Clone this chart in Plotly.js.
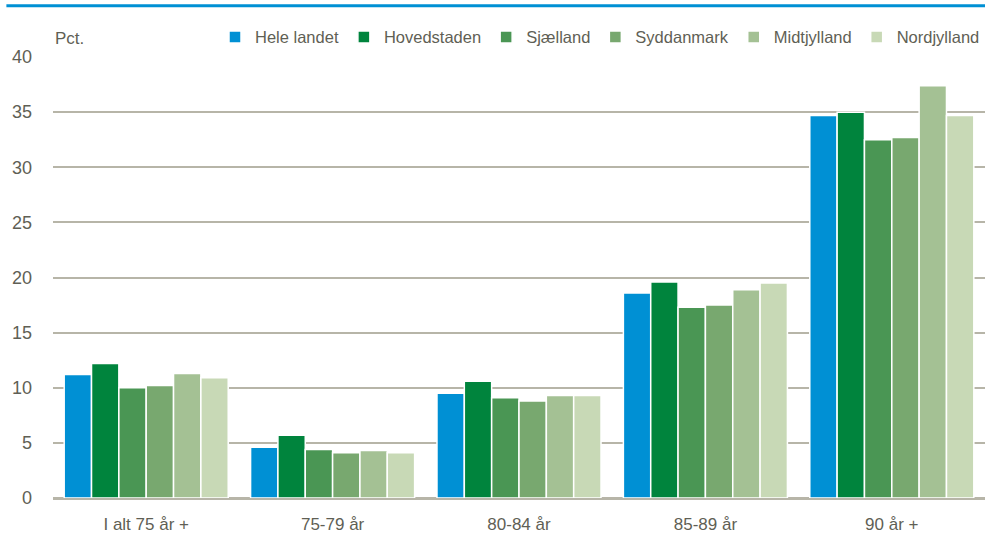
<!DOCTYPE html>
<html><head><meta charset="utf-8">
<script src="https://cdn.plot.ly/plotly-3.0.1.min.js"></script>
<style>html,body{margin:0;padding:0;background:#fff;}#chart{width:985px;height:534px;}</style>
</head><body><div id="chart"></div>
<script>
const categories = ["I alt 75 år +", "75-79 år", "80-84 år", "85-89 år", "90 år +"];
const seriesNames = ["Hele landet", "Hovedstaden", "Sjælland", "Syddanmark", "Midtjylland", "Nordjylland"];
const heleLandet  = [11.2, 4.6, 9.5, 18.6, 34.7];
const hovedstaden = [12.2, 5.7, 10.6, 19.6, 35.0];
const sjaelland   = [10.0, 4.4, 9.1, 17.3, 32.5];
const syddanmark  = [10.2, 4.1, 8.8, 17.5, 32.7];
const midtjylland = [11.3, 4.3, 9.3, 18.9, 37.4];
const nordjylland = [10.9, 4.1, 9.3, 19.5, 34.7];
const seriesValues = [heleLandet, hovedstaden, sjaelland, syddanmark, midtjylland, nordjylland];
const colors = ["#0090d4", "#00843d", "#4a9654", "#78a86f", "#a4c194", "#c8d9b6"];

const FONT = "'Liberation Sans Narrow', 'Arial Narrow', 'Liberation Sans', Arial, sans-serif";

const traces = seriesNames.map((n, i) => ({
  type: 'bar', name: n, x: categories, y: seriesValues[i],
  marker: {color: colors[i], line: {color: '#ffffff', width: 1.5}},
  hoverinfo: 'skip'
}));

const layout = {
  width: 985, height: 534,
  margin: {l: 53, r: 0, t: 57, b: 36},
  paper_bgcolor: '#fff', plot_bgcolor: '#fff',
  font: {family: FONT, size: 17, color: '#5f5f55'},
  barmode: 'group', bargap: 0.12, bargroupgap: 0,
  showlegend: true,
  legend: {orientation: 'h', x: 1, xanchor: 'right', y: 1.005, yanchor: 'bottom',
           font: {family: FONT, size: 16.5, color: '#5f5f55'}, itemwidth: 30, traceorder: 'normal'},
  xaxis: {type: 'category', showgrid: false, showline: false, zeroline: false, ticks: '',
          ticklabelstandoff: 14,
          tickfont: {family: FONT, size: 17, color: '#5f5f55'}, fixedrange: true},
  yaxis: {range: [0, 40], dtick: 5, showgrid: true, gridcolor: '#b7b5a8', gridwidth: 2,
          zeroline: true, zerolinecolor: '#b7b5a8', zerolinewidth: 3, showline: false,
          ticks: '', ticklabelstandoff: 20, tickfont: {family: FONT, size: 18, color: '#5f5f55'}, fixedrange: true},
  shapes: [{type: 'line', xref: 'paper', yref: 'paper', x0: -0.05, x1: 1, y0: 1.116, y1: 1.116,
            line: {color: '#0090d4', width: 3}}],
  annotations: [{text: 'Pct.', xref: 'paper', yref: 'paper', x: 0, y: 1.016, xanchor: 'left', yanchor: 'bottom',
                 showarrow: false, font: {family: FONT, size: 17, color: '#5f5f55'}}]
};
Plotly.newPlot('chart', traces, layout, {displayModeBar: false, staticPlot: true});
</script></body></html>
